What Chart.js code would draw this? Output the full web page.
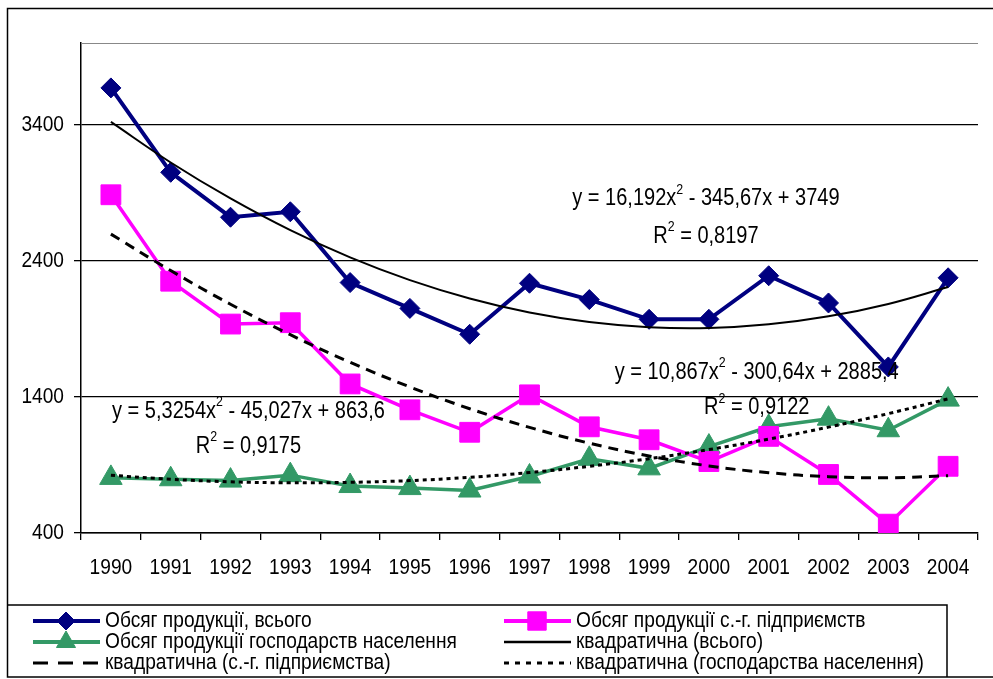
<!DOCTYPE html>
<html>
<head>
<meta charset="utf-8">
<script src="https://cdn.jsdelivr.net/npm/chart.js@4.4.0/dist/chart.umd.min.js"></script>
<style>
  body { margin: 0; background: #fff; }
  canvas { display: block; }
</style>
</head>
<body>
<canvas id="myChart" width="993" height="679"></canvas>
<script>
// Обсяг продукції сільського господарства, 1990-2004
const years = ['1990', '1991', '1992', '1993', '1994', '1995', '1996', '1997', '1998', '1999', '2000', '2001', '2002', '2003', '2004'];

const totalVolume = [3670, 3050, 2720, 2760, 2240, 2050, 1860, 2235, 2115, 1970, 1970, 2290, 2090, 1620, 2275];
const enterpriseVolume = [2885, 2250, 1935, 1945, 1495, 1305, 1140, 1415, 1180, 1085, 925, 1110, 830, 465, 890];
const householdVolume = [805, 795, 785, 825, 745, 730, 712, 815, 945, 875, 1035, 1180, 1240, 1155, 1380];

// trend lines
const totalTrend = [3420, 3122, 2858, 2625, 2425, 2258, 2123, 2020, 1950, 1912, 1906, 1933, 1992, 2083, 2207];
const enterpriseTrend = [2596, 2328, 2081, 1857, 1654, 1473, 1313, 1176, 1060, 966, 893, 843, 814, 806, 821];
const householdTrend = [824, 795, 776, 769, 772, 785, 809, 844, 890, 946, 1013, 1090, 1178, 1277, 1386];

const yTicks = [400, 1400, 2400, 3400];

const FONT = "'Liberation Sans', Arial, sans-serif";
const FS = 22;     // font size
const SX = 0.87;   // the original text is a bit squeezed sideways

const NAVY = '#000080';
const MAGENTA = '#FF00FF';
const GREEN = '#339966';

// equation labels, anchored to category index / value
const equations = [
  { x: 9.95, y: 2855, parts: [['y = 16,192x', 0], ['2', 1], [' - 345,67x + 3749', 0]] },
  { x: 9.95, y: 2580, parts: [['R', 0], ['2', 1], [' = 0,8197', 0]] },
  { x: 10.8, y: 1580, parts: [['y = 10,867x', 0], ['2', 1], [' - 300,64x + 2885,4', 0]] },
  { x: 10.8, y: 1320, parts: [['R', 0], ['2', 1], [' = 0,9122', 0]] },
  { x: 2.3, y: 1292, parts: [['y = 5,3254x', 0], ['2', 1], [' - 45,027x + 863,6', 0]] },
  { x: 2.3, y: 1034, parts: [['R', 0], ['2', 1], [' = 0,9175', 0]] },
];

const legendItems = [
  { text: 'Обсяг продукції, всього', color: NAVY, style: 'rectRot', dash: [], width: 4, col: 0, row: 0 },
  { text: 'Обсяг продукції с.-г. підприємств', color: MAGENTA, style: 'rect', dash: [], width: 4, col: 1, row: 0 },
  { text: 'Обсяг продукції господарств населення', color: GREEN, style: 'triangle', dash: [], width: 4, col: 0, row: 1 },
  { text: 'квадратична (всього)', color: '#000', style: null, dash: [], width: 2.5, col: 1, row: 1 },
  { text: 'квадратична (с.-г. підприємства)', color: '#000', style: null, dash: [15, 10], width: 3, col: 0, row: 2 },
  { text: 'квадратична (господарства населення)', color: '#000', style: null, dash: [5, 6], width: 3, col: 1, row: 2 },
];

function squeezedText(ctx, text, x, y, align, size) {
  ctx.save();
  ctx.font = size + 'px ' + FONT;
  ctx.translate(x, y);
  ctx.scale(SX, 1);
  ctx.textAlign = align;
  ctx.fillText(text, 0, 0);
  ctx.restore();
}

function richText(ctx, parts, cx, cy, size) {
  let w = 0;
  parts.forEach(p => {
    ctx.font = (p[1] ? size * 0.62 : size) + 'px ' + FONT;
    w += ctx.measureText(p[0]).width * SX;
  });
  let x = cx - w / 2;
  parts.forEach(p => {
    const s = p[1] ? size * 0.62 : size;
    squeezedText(ctx, p[0], x, p[1] ? cy - size * 0.4 : cy, 'left', s);
    ctx.font = s + 'px ' + FONT;
    x += ctx.measureText(p[0]).width * SX;
  });
}

const decor = {
  id: 'decor',
  afterDatasetsDraw(chart) {
    const ctx = chart.ctx;
    const xs = chart.scales.x, ys = chart.scales.y;
    ctx.save();
    ctx.fillStyle = '#000';
    ctx.textBaseline = 'middle';
    equations.forEach(e => {
      richText(ctx, e.parts, xs.getPixelForValue(e.x), ys.getPixelForValue(e.y), 23);
    });
    ctx.restore();
  },
  afterDraw(chart) {
    const ctx = chart.ctx;
    const area = chart.chartArea;
    const xs = chart.scales.x, ys = chart.scales.y;
    ctx.save();
    ctx.fillStyle = '#000';
    ctx.textBaseline = 'middle';
    // tick labels
    xs.ticks.forEach((t, i) => {
      squeezedText(ctx, years[i], xs.getPixelForTick(i), area.bottom + 35, 'center', FS);
    });
    ys.ticks.forEach((t, i) => {
      squeezedText(ctx, String(t.value), area.left - 17, ys.getPixelForTick(i), 'right', FS);
    });
    // plot area top border
    ctx.strokeStyle = '#888';
    ctx.lineWidth = 1.2;
    ctx.beginPath();
    ctx.moveTo(area.left, area.top + 0.5);
    ctx.lineTo(area.right, area.top + 0.5);
    ctx.stroke();
    // outer frame
    ctx.strokeStyle = '#000';
    ctx.lineWidth = 1.5;
    ctx.strokeRect(7.5, 8.5, 1000, 668.5);
    // legend box
    ctx.beginPath();
    ctx.moveTo(7, 605);
    ctx.lineTo(947, 605);
    ctx.lineTo(947, 677);
    ctx.stroke();
    // legend entries
    const colX = [33, 504];
    const rowY = [621, 642, 663];
    legendItems.forEach(it => {
      const x = colX[it.col], y = rowY[it.row];
      ctx.strokeStyle = it.color;
      ctx.lineWidth = it.width;
      ctx.setLineDash(it.dash);
      ctx.beginPath();
      ctx.moveTo(x, y);
      ctx.lineTo(x + 67, y);
      ctx.stroke();
      ctx.setLineDash([]);
      if (it.style) {
        ctx.fillStyle = it.color;
        ctx.strokeStyle = it.color;
        ctx.lineWidth = 1;
        const r = it.style === 'rect' ? 13 : it.style === 'triangle' ? 11 : 9;
        Chart.helpers.drawPoint(ctx, { pointStyle: it.style, radius: r, rotation: 0, borderWidth: 1 }, x + 33, y);
      }
      ctx.fillStyle = '#000';
      squeezedText(ctx, it.text, x + 72, y, 'left', FS);
    });
    ctx.restore();
  }
};

Chart.defaults.font.family = FONT;
Chart.defaults.font.size = FS;
Chart.defaults.color = '#000';

const ctx = document.getElementById('myChart').getContext('2d');

const myChart = new Chart(ctx, {
  type: 'line',
  data: {
    labels: years,
    datasets: [
      {
        label: 'Обсяг продукції, всього',
        data: totalVolume,
        borderColor: NAVY,
        backgroundColor: NAVY,
        borderWidth: 4,
        pointStyle: 'rectRot',
        pointRadius: 10,
        pointBorderWidth: 1,
        order: 2,
      },
      {
        label: 'Обсяг продукції с.-г. підприємств',
        data: enterpriseVolume,
        borderColor: MAGENTA,
        backgroundColor: MAGENTA,
        borderWidth: 3.5,
        pointStyle: 'rect',
        pointRadius: 14,
        pointBorderWidth: 1,
        order: 2,
      },
      {
        label: 'Обсяг продукції господарств населення',
        data: householdVolume,
        borderColor: GREEN,
        backgroundColor: GREEN,
        borderWidth: 3.5,
        pointStyle: 'triangle',
        pointRadius: 13,
        pointBorderWidth: 1,
        order: 2,
      },
      {
        label: 'квадратична (всього)',
        data: totalTrend,
        borderColor: '#000',
        borderWidth: 2,
        pointRadius: 0,
        tension: 0.4,
        order: 1,
      },
      {
        label: 'квадратична (с.-г. підприємства)',
        data: enterpriseTrend,
        borderColor: '#000',
        borderWidth: 3,
        borderDash: [10, 7],
        pointRadius: 0,
        tension: 0.4,
        order: 1,
      },
      {
        label: 'квадратична (господарства населення)',
        data: householdTrend,
        borderColor: '#000',
        borderWidth: 3,
        borderDash: [4, 4],
        pointRadius: 0,
        tension: 0.4,
        order: 1,
      },
    ]
  },
  options: {
    responsive: false,
    devicePixelRatio: 1,
    animation: false,
    layout: { padding: { left: 0, top: 43, right: 0, bottom: 90 } },
    plugins: {
      legend: { display: false },
      tooltip: { enabled: false },
    },
    scales: {
      x: {
        offset: true,
        grid: {
          offset: true,
          drawOnChartArea: false,
          drawTicks: true,
          tickLength: 7,
          tickColor: '#000',
          lineWidth: 1.3,
        },
        border: { color: '#000', width: 1.5 },
        ticks: { padding: 12, maxRotation: 0, autoSkip: false, color: 'rgba(0,0,0,0)' },
        afterFit(scale) { scale.height = 56; },
      },
      y: {
        min: 400,
        max: 4000,
        afterBuildTicks(scale) { scale.ticks = yTicks.map(v => ({ value: v })); },
        grid: {
          color: '#000',
          lineWidth: 1.3,
          tickLength: 7,
          tickColor: '#000',
        },
        border: { color: '#000', width: 1.5 },
        ticks: { padding: 9, color: 'rgba(0,0,0,0)' },
        afterFit(scale) { scale.width = 81; },
      }
    }
  },
  plugins: [decor],
});
</script>
</body>
</html>
